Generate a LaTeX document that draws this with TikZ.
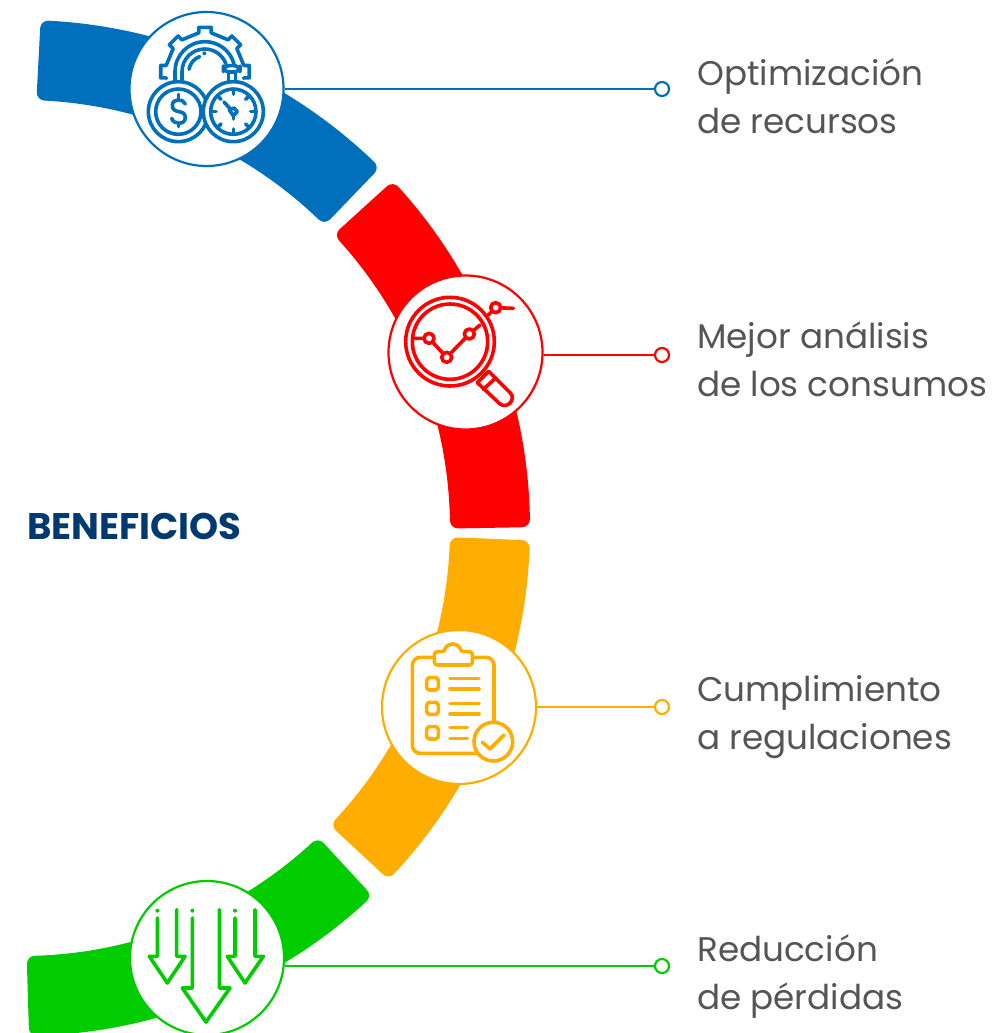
\documentclass[tikz,border=0pt]{standalone}
\usepackage{fontspec}
\setmainfont{Poppins}
\definecolor{cblue}{HTML}{0070BC}
\definecolor{cred}{HTML}{FF0000}
\definecolor{cyel}{HTML}{FFAD00}
\definecolor{cgrn}{HTML}{00CC00}
\definecolor{ctxt}{HTML}{555555}
\definecolor{ctitle}{HTML}{003A70}
\tikzset{
  band/.style={line width=16pt,line join=round,draw=#1,fill=#1},
  badge/.style={circle,draw=#1,fill=white,line width=2.2pt,minimum size=154pt,inner sep=0pt},
  enddot/.style={circle,draw=#1,fill=white,line width=2.2pt,minimum size=14pt,inner sep=0pt},
  link/.style={draw=#1,line width=2.5pt},
  label/.style={anchor=west,align=left,text=ctxt,inner sep=0pt,font=\fontsize{34.2}{48}\selectfont},
  ico/.style={draw=#1,line width=3.6pt,line cap=round,line join=round},
  zoomed/.style={x=0.33333pt,y=-0.33333pt}
}
\begin{document}
\begin{tikzpicture}[x=1pt,y=-1pt]
\useasboundingbox (0,0) rectangle (1004,1033);
\clip (0,0) rectangle (1004,1033);
\fill[white] (0,0) rectangle (1004,1033);
% bands
\begin{scope}[shift={(22pt,-528pt)}]
\path[band=cblue] (-87:500) arc[start angle=-87,end angle=-46.1,radius=500] -- (-46.1:436) arc[start angle=-46.1,end angle=-87,radius=436] -- cycle;
\path[band=cred] (-42.2:500) arc[start angle=-42.2,end angle=-1,radius=500] -- (-1:436) arc[start angle=-1,end angle=-42.2,radius=436] -- cycle;
\path[band=cyel] (2.3:500) arc[start angle=2.3,end angle=42.9,radius=500] -- (42.9:436) arc[start angle=42.9,end angle=2.3,radius=436] -- cycle;
\path[band=cgrn] (47.3:500) arc[start angle=47.3,end angle=88.3,radius=500] -- (88.3:436) arc[start angle=88.3,end angle=47.3,radius=436] -- cycle;
\end{scope}
% badges and ends
\node[enddot=cblue] (d1) at (662,89) {};
\node[enddot=cred] (d2) at (662,355) {};
\node[enddot=cyel] (d3) at (662,707) {};
\node[enddot=cgrn] (d4) at (662,966) {};
\node[badge=cblue] (n1) at (206.5,89) {};
\node[badge=cred] (n2) at (465.5,352.5) {};
\node[badge=cyel] (n3) at (459,707) {};
\node[badge=cgrn] (n4) at (207,958) {};
\draw[link=cblue] (n1.east |- d1) -- (d1);
\draw[link=cred] (n2.east |- d2) -- (d2);
\draw[link=cyel] (n3.east |- d3) -- (d3);
\draw[link=cgrn] (n4.east |- d4) -- (d4);
% labels
\node[label] (t1) at (697,96) {Optimización\\de recursos};
\node[label] (t2) at (697,359) {Mejor análisis\\de los consumos};
\node[label] (t3) at (697,717) {Cumplimiento\\a regulaciones};
\node[label] (t4) at (697,976) {Reducción\\de pérdidas};
\node[anchor=west,inner sep=0pt,text=ctitle,font=\fontsize{37}{44}\selectfont\bfseries] (title) at (27,526) {BENEFICIOS};
% blue icon
\begin{scope}[shift={(120pt,0pt)},zoomed]
\begin{scope}[shift={(85pt,-71.67pt)}]
\draw[ico=cblue] (-190:118) \foreach \t in {-180,-135,-90,-45,0} { -- (\t-9:118) -- (\t-8:134) -- (\t+8:134) -- (\t+9:118) } -- (10:118);
\end{scope}
\draw[ico=cblue] (165,245) -- (165,215) arc[start angle=180,end angle=345,radius=90];
\draw[ico=cblue] (186,240) -- (186,215) arc[start angle=180,end angle=340,radius=68];
\draw[ico=cblue] (207,208) arc[start angle=190,end angle=250,radius=50];
\fill[cblue] (253,160) circle[radius=6];
\draw[ico=cblue,fill=white,rounded corners=6] (310,197) rectangle (360,216);
\draw[ico=cblue] (325,216) -- (325,245) (347,216) -- (347,245);
\draw[ico=cblue,fill=white] (175,335) circle[radius=90];
\draw[ico=cblue] (175,335) circle[radius=68];
\draw[ico=cblue,fill=white] (340,335) circle[radius=90];
\draw[ico=cblue] (340,335) circle[radius=68];
\draw[ico=cblue] (196,312) .. controls (190,295) and (157,295) .. (157,316) .. controls (157,345) and (196,325) .. (196,353) .. controls (196,375) and (160,375) .. (155,355);
\draw[ico=cblue] (175,283) -- (175,295) (175,370) -- (175,380);
\foreach \a in {0,45,90,135,180,225,270,315} {\draw[ico=cblue] (340,335) ++(\a:52) -- ++(\a:12);}
\draw[ico=cblue] (312,306) -- (332,328);
\draw[ico=cblue,fill=white] (328,330) -- (342,324) -- (352,335) -- (340,347) -- cycle;
\draw[ico=cblue] (340,347) -- (340,357);
\end{scope}
% red icon
\begin{scope}[shift={(380pt,-270pt)},zoomed]
\draw[ico=cred] (210,215) circle[radius=133];
\draw[ico=cred] (210,215) circle[radius=113];
\draw[ico=cred] (100,205) -- (147,205) -- (200,262) -- (268,192) -- (300,165);
\draw[ico=cred] (325,135) -- (347,113) -- (400,115);
\foreach \p in {(147,205),(200,262),(268,192),(347,113)} {\draw[ico=cred,fill=white] \p circle[radius=15];}
\draw[ico=cred] (326,304) -- (392,370) .. controls (408,388) and (382,418) .. (360,402) -- (292,338) -- cycle;
\draw[ico=cred] (310,358) -- (347,324);
\end{scope}
% yellow icon
\begin{scope}[shift={(375pt,-625pt)},zoomed]
\draw[ico=cyel,rounded corners=8] (178,97) -- (112,97) -- (112,385) -- (305,385);
\draw[ico=cyel,rounded corners=8] (292,97) -- (357,97) -- (357,300);
\draw[ico=cyel,rounded corners=3] (178,80) -- (210,80) arc[start angle=180,end angle=360,radius=23] -- (292,80) -- (292,120) -- (178,120) -- cycle;
\draw[ico=cyel,rounded corners=3] (155,158) rectangle (190,195);
\draw[ico=cyel,rounded corners=3] (155,232) rectangle (190,268);
\draw[ico=cyel,rounded corners=3] (155,305) rectangle (190,342);
\draw[ico=cyel] (225,160) -- (312,160) (225,192) -- (312,192) (225,235) -- (312,235) (225,267) -- (312,267) (225,308) -- (277,308) (225,340) -- (277,340);
\draw[ico=cyel,fill=white] (355,350) circle[radius=58];
\draw[ico=cyel] (322,352) -- (345,372) -- (387,330);
\end{scope}
% green icon
\begin{scope}[shift={(120pt,-873pt)},zoomed]
\fill[cgrn] (112,113) circle[radius=6] (217,113) circle[radius=6] (345,113) circle[radius=6];
\draw[ico=cgrn] (112,135) -- (112,250) -- (88,250) -- (142,330) -- (195,250) -- (170,250) -- (170,110);
\draw[ico=cgrn] (345,135) -- (345,250) -- (322,250) -- (375,330) -- (430,250) -- (405,250) -- (405,110);
\draw[ico=cgrn] (217,135) -- (217,345) -- (187,345) -- (258,447) -- (330,345) -- (298,345) -- (298,110);
\end{scope}
\end{tikzpicture}
\end{document}
